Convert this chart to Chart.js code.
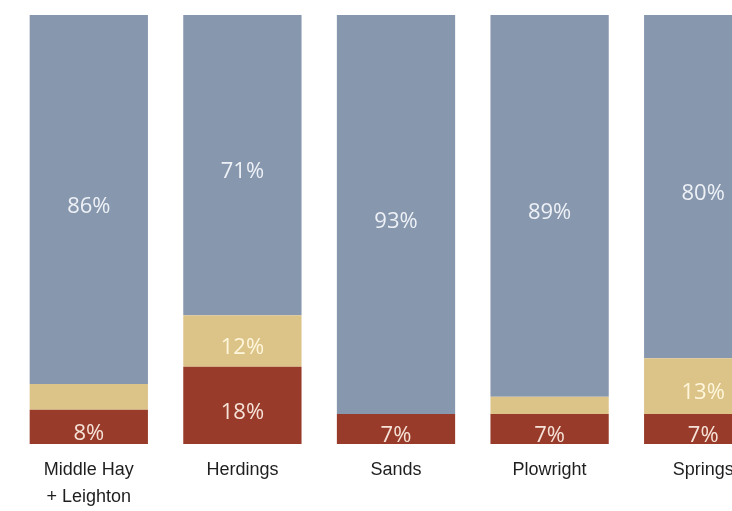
<!DOCTYPE html>
<html>
<head>
<meta charset="utf-8">
<script src="https://cdn.jsdelivr.net/npm/chart.js@4/dist/chart.umd.min.js"></script>
<style>
    html, body { margin: 0; padding: 0; background: #fff; overflow: hidden; width: 732px; height: 511px; }
    #wrap { width: 790px; height: 511px; }
</style>
</head>
<body>
<div id="wrap"><canvas id="shareChart" width="790" height="511"></canvas></div>
<script>
const categories = [['Middle Hay', '+ Leighton'], 'Herdings', 'Sands', 'Plowright', 'Springs'];
const redShare = [8, 18, 7, 7, 7];
const tanShare = [6, 12, 0, 4, 13];
const blueShare = [86, 71, 93, 89, 80];

const labelColors = ['#f6e3d8', '#fff6dc', '#eef1f6'];

// writes the percentage in the middle of each visible segment
const segmentLabels = {
    id: 'segmentLabels',
    afterDatasetsDraw(chart) {
        const ctx = chart.ctx;
        const area = chart.chartArea;
        ctx.save();
        ctx.font = '22px "Open Sans", "Liberation Sans", sans-serif';
        ctx.textAlign = 'center';
        ctx.textBaseline = 'middle';
        chart.data.datasets.forEach((ds, i) => {
            chart.getDatasetMeta(i).data.forEach((bar, j) => {
                const v = ds.data[j];
                if (v < 7) return;
                const p = bar.getProps(['x', 'y', 'base'], true);
                const top = Math.max(Math.min(p.y, p.base), area.top);
                const bottom = Math.min(Math.max(p.y, p.base), area.bottom);
                ctx.fillStyle = labelColors[i];
                ctx.fillText(v + '%', p.x, (top + bottom) / 2 + 7);
            });
        });
        ctx.restore();
    }
};

const shareConfig = {
    type: 'bar',
    data: {
        labels: categories,
        datasets: [
            { label: 'red', data: redShare, backgroundColor: '#983b2a' },
            { label: 'tan', data: tanShare, backgroundColor: '#dcc488' },
            { label: 'blue', data: blueShare, backgroundColor: '#8697ae' }
        ]
    },
    options: {
        responsive: false,
        animation: false,
        events: [],
        barPercentage: 0.77,
        categoryPercentage: 1,
        layout: {
            padding: { left: 12, right: 10, top: 15, bottom: 0 }
        },
        plugins: {
            legend: { display: false },
            tooltip: { enabled: false }
        },
        scales: {
            x: {
                stacked: true,
                grid: { display: false, drawTicks: false },
                border: { display: false },
                afterFit(scale) { scale.height = 67; },
                ticks: {
                    color: '#1e1e1e',
                    padding: 13,
                    font: { family: '"Liberation Sans", Arial, sans-serif', size: 18, lineHeight: 1.5 }
                }
            },
            y: {
                stacked: true,
                display: false,
                min: 0,
                max: 100
            }
        }
    },
    plugins: [segmentLabels]
};

const shareChart = new Chart(document.getElementById('shareChart'), shareConfig);
</script>
</body>
</html>
